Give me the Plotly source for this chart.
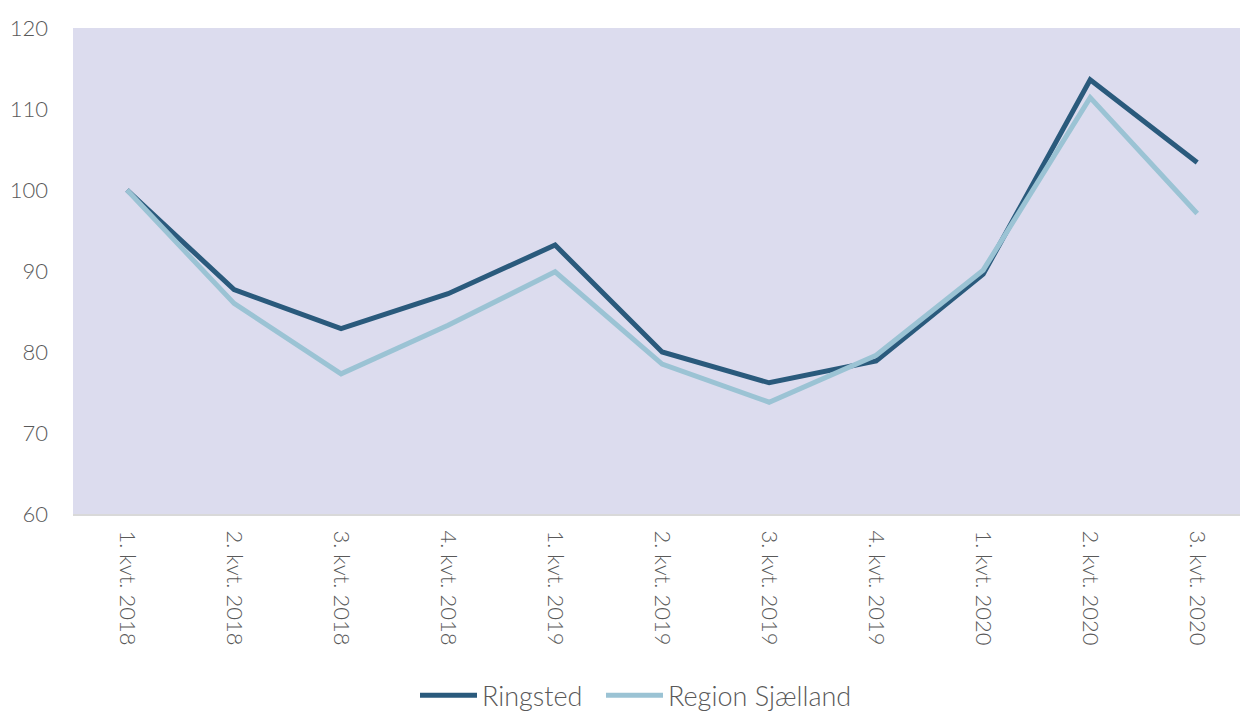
import plotly.graph_objects as go

categories = ["1. kvt. 2018", "2. kvt. 2018", "3. kvt. 2018", "4. kvt. 2018",
              "1. kvt. 2019", "2. kvt. 2019", "3. kvt. 2019", "4. kvt. 2019",
              "1. kvt. 2020", "2. kvt. 2020", "3. kvt. 2020"]
ringsted = [100.0, 87.7, 82.9, 87.2, 93.2, 80.0, 76.2, 78.9, 89.6, 113.6, 103.4]
region_sjaelland = [100.0, 86.0, 77.3, 83.3, 89.9, 78.5, 73.8, 79.6, 90.1, 111.4, 97.1]
y_ticks = [60, 70, 80, 90, 100, 110, 120]

FONT = "Lato"
TEXT = "#595959"

fig = go.Figure()
fig.add_trace(go.Scatter(x=categories, y=ringsted, mode="lines", name="Ringsted",
                         line=dict(color="#2A5A7C", width=5), legend="legend"))
fig.add_trace(go.Scatter(x=categories, y=region_sjaelland, mode="lines", name="Region Sjælland",
                         line=dict(color="#9BC3D4", width=5), legend="legend2"))

legend_common = dict(orientation="h", y=-0.374, yanchor="middle", xanchor="left",
                     font=dict(size=27, color=TEXT, weight=300, family=FONT), itemwidth=57,
                     bgcolor="rgba(0,0,0,0)")

fig.update_layout(
    width=1240, height=711,
    margin=dict(l=73, r=0, t=28, b=197, autoexpand=False),
    paper_bgcolor="white",
    plot_bgcolor="#DCDCEE",
    font=dict(family=FONT, color=TEXT, size=22, weight=300),
    showlegend=True,
    legend=dict(x=(415 - 73) / 1167, **legend_common),
    legend2=dict(x=(601 - 73) / 1167, **legend_common),
    xaxis=dict(type="category", range=[-0.505, 10.40], tickangle=90, automargin=False,
               showgrid=False, showline=True, linecolor="#D9D9D9", linewidth=2,
               ticks="", tickfont=dict(size=22, color=TEXT, family=FONT, weight=300),
               ticklabelstandoff=10),
    yaxis=dict(range=[60, 120], tickvals=y_ticks, showgrid=False, zeroline=False,
               automargin=False,
               showline=False, ticks="", tickfont=dict(size=22, color=TEXT, family=FONT, weight=300),
               ticklabelstandoff=24),
)

fig.write_html("out.html", config={"displayModeBar": False})

with open("out.html", "r", encoding="utf-8") as f:
    html = f.read()
html = html.replace("<head>", "<head><style>html,body{margin:0;padding:0;overflow:hidden;}</style>", 1)
with open("out.html", "w", encoding="utf-8") as f:
    f.write(html)
